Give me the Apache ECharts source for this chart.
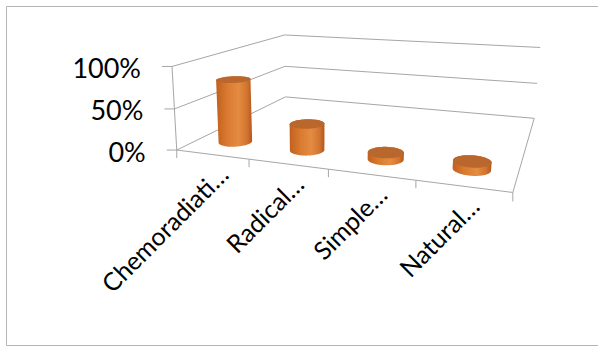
<!DOCTYPE html>
<html>
<head>
<meta charset="utf-8">
<script src="https://cdn.jsdelivr.net/npm/echarts@6/dist/echarts.min.js"></script>
<style>
  html, body { margin: 0; padding: 0; background: #ffffff; }
  #chart { width: 598px; height: 347px; }
</style>
</head>
<body>
<div id="chart"></div>
<script>
// Chart data
const categories = ['Chemoradiati\u2026', 'Radical\u2026', 'Simple\u2026', 'Natural\u2026'];
const shares = [0.78, 0.32, 0.08, 0.09];
const valueTicks = [0, 0.5, 1];
const tickLabels = ['0%', '50%', '100%'];

// Screen anchors of the 3D plot box: [u, v, w, x, y]; u runs along the categories,
// v up the value axis, w from the front edge of the floor (0) to the back wall (1).
const boxAnchors = [
  [0, 0, 0, 176.7, 150], [0, 0.5, 0, 174.2, 108.3], [0, 1, 0, 171.7, 66.7],
  [0, 0, 1, 285, 96.7], [0, 0.5, 1, 285, 66.7], [0, 1, 1, 285, 35],
  [1, 0, 1, 534.3, 118.3], [1, 0.5, 1, 537.3, 83.3], [1, 1, 1, 540, 47.3],
  [1, 0, 0, 512.7, 192.7],
  [0.25, 0, 0, 250, 159.3], [0.5, 0, 0, 328.3, 169.2], [0.75, 0, 0, 415.7, 180.4]
];

const LINE = '#a6a6a6';
const FONT = 'Lato, "Open Sans", sans-serif';
const VALUE_FONT_SIZE = 27;
const CATEGORY_FONT_SIZE = 25;
const BAR_RATIO = 0.42;     // cylinder diameter as a share of the category width
const DEPTH_CENTER = 0.18;  // cylinder axis position between front and back
const DEPTH_RADIUS = 0.07;  // cylinder radius in depth units

// Least-squares perspective camera (3x4 projective matrix) through the anchors.
function fitCamera(anchors) {
  const cx = 350, cy = 120, s = 200, n = 11;
  const M = Array.from({ length: n }, () => new Array(n).fill(0));
  const r = new Array(n).fill(0);
  const addRow = (row, rhs) => {
    for (let i = 0; i < n; i++) {
      for (let j = 0; j < n; j++) M[i][j] += row[i] * row[j];
      r[i] += row[i] * rhs;
    }
  };
  anchors.forEach(([X, Y, Z, x, y]) => {
    const xn = (x - cx) / s, yn = (y - cy) / s;
    addRow([X, Y, Z, 1, 0, 0, 0, 0, -xn * X, -xn * Y, -xn * Z], xn);
    addRow([0, 0, 0, 0, X, Y, Z, 1, -yn * X, -yn * Y, -yn * Z], yn);
  });
  for (let c = 0; c < n; c++) {
    let piv = c;
    for (let i = c + 1; i < n; i++) if (Math.abs(M[i][c]) > Math.abs(M[piv][c])) piv = i;
    [M[c], M[piv]] = [M[piv], M[c]];
    [r[c], r[piv]] = [r[piv], r[c]];
    for (let i = c + 1; i < n; i++) {
      const f = M[i][c] / M[c][c];
      for (let j = c; j < n; j++) M[i][j] -= f * M[c][j];
      r[i] -= f * r[c];
    }
  }
  const p = new Array(n);
  for (let i = n - 1; i >= 0; i--) {
    let acc = r[i];
    for (let j = i + 1; j < n; j++) acc -= M[i][j] * p[j];
    p[i] = acc / M[i][i];
  }
  return (X, Y, Z) => {
    const d = p[8] * X + p[9] * Y + p[10] * Z + 1;
    return [
      cx + s * (p[0] * X + p[1] * Y + p[2] * Z + p[3]) / d,
      cy + s * (p[4] * X + p[5] * Y + p[6] * Z + p[7]) / d
    ];
  };
}
const project = fitCamera(boxAnchors);

function convexHull(points) {
  const pts = points.slice().sort((a, b) => a[0] - b[0] || a[1] - b[1]);
  const cross = (o, a, b) => (a[0] - o[0]) * (b[1] - o[1]) - (a[1] - o[1]) * (b[0] - o[0]);
  const lower = [], upper = [];
  for (const q of pts) {
    while (lower.length >= 2 && cross(lower[lower.length - 2], lower[lower.length - 1], q) <= 0) lower.pop();
    lower.push(q);
  }
  for (let i = pts.length - 1; i >= 0; i--) {
    const q = pts[i];
    while (upper.length >= 2 && cross(upper[upper.length - 2], upper[upper.length - 1], q) <= 0) upper.pop();
    upper.push(q);
  }
  lower.pop(); upper.pop();
  return lower.concat(upper);
}

// Grid-relative helpers: turn a pixel from the cartesian scales into box units.
const toU = (cs, px) => (px - cs.x) / cs.width;
const toV = (cs, py) => (cs.y + cs.height - py) / cs.height;
const seg = (a, b) => ({
  type: 'line',
  shape: { x1: a[0], y1: a[1], x2: b[0], y2: b[1] },
  style: { stroke: LINE, lineWidth: 1 }
});

// Side-wall and back-wall gridlines with the value labels.
function renderWalls(params, api) {
  const cs = params.coordSys;
  const v = toV(cs, api.coord([0, api.value(1)])[1]);
  const front = project(0, v, 0), corner = project(0, v, 1), right = project(1, v, 1);
  return {
    type: 'group',
    children: [
      seg(front, corner),
      seg(corner, right),
      seg([front[0] - 10, front[1]], front),
      {
        type: 'text',
        x: front[0] - 31, y: front[1] + 1,
        style: {
          text: tickLabels[params.dataIndex], fill: '#000000',
          fontSize: VALUE_FONT_SIZE, fontFamily: FONT, align: 'right', verticalAlign: 'middle'
        }
      }
    ]
  };
}

// Floor front edge, category ticks and rotated category labels.
function renderFloor(params, api) {
  const cs = params.coordSys;
  const i = api.value(0);
  const uc = toU(cs, api.coord([i, 0])[0]);
  const half = api.size([1, 0])[0] / cs.width / 2;
  const a = project(uc - half, 0, 0), b = project(uc + half, 0, 0), c = project(uc, 0, 0);
  const children = [seg(a, b), seg(a, [a[0], a[1] + 8])];
  if (params.dataIndex === 0) {
    children.push(seg(project(0, 1, 0), project(0, 0, 0)));
  }
  if (params.dataIndex === categories.length - 1) {
    children.push(seg(b, [b[0], b[1] + 9]));
    children.push(seg(b, project(1, 0, 1)));
  }
  children.push({
    type: 'text',
    x: c[0] + 11, y: c[1] + 15,
    rotation: Math.PI / 4,
    style: {
      text: categories[params.dataIndex], fill: '#000000',
      fontSize: CATEGORY_FONT_SIZE, fontFamily: FONT, align: 'right', verticalAlign: 'middle'
    }
  });
  return { type: 'group', children };
}

// One orange cylinder per category, standing on the floor.
function renderCylinder(params, api) {
  const cs = params.coordSys;
  const top = api.coord([api.value(0), api.value(1)]);
  const u = toU(cs, top[0]);
  const v = toV(cs, top[1]);
  const ru = api.size([1, 0])[0] / cs.width * BAR_RATIO / 2;
  const ring = (h) => {
    const pts = [];
    for (let k = 0; k < 72; k++) {
      const t = (2 * Math.PI * k) / 72;
      pts.push(project(u + ru * Math.cos(t), h, DEPTH_CENTER + DEPTH_RADIUS * Math.sin(t)));
    }
    return pts;
  };
  const lid = ring(v);
  const body = convexHull(ring(0).concat(lid));
  const xs = body.map(p => p[0]);
  const x0 = Math.min.apply(null, xs), x1 = Math.max.apply(null, xs);
  return {
    type: 'group',
    children: [
      {
        type: 'polygon',
        shape: { points: body },
        style: {
          fill: new echarts.graphic.LinearGradient(x0, 0, x1, 0, [
            { offset: 0, color: '#c0601e' },
            { offset: 0.3, color: '#d97a30' },
            { offset: 0.62, color: '#e48c42' },
            { offset: 0.86, color: '#d27330' },
            { offset: 1, color: '#b2581b' }
          ], true)
        }
      },
      { type: 'polygon', shape: { points: lid }, style: { fill: '#b9672d' } }
    ]
  };
}

const chart = echarts.init(document.getElementById('chart'), null, { renderer: 'svg' });
chart.setOption({
  animation: false,
  backgroundColor: '#ffffff',
  graphic: [{
    type: 'rect',
    shape: { x: 6.5, y: 6.5, width: 600, height: 339 },
    style: { fill: 'none', stroke: '#b4b4b4', lineWidth: 1 },
    z: -10
  }],
  grid: { left: 176, right: 86, top: 67, bottom: 197 },
  xAxis: { type: 'category', data: categories, show: false },
  yAxis: { type: 'value', min: 0, max: 1, interval: 0.5, show: false },
  series: [
    {
      type: 'custom', name: 'walls', z: 1,
      data: valueTicks.map(v => [0, v]),
      renderItem: renderWalls
    },
    {
      type: 'custom', name: 'floor', z: 1,
      data: categories.map((c, i) => [i, 0]),
      renderItem: renderFloor
    },
    {
      type: 'custom', name: 'share', z: 2,
      data: shares.map((s, i) => [i, s]),
      renderItem: renderCylinder
    }
  ]
});
</script>
</body>
</html>
